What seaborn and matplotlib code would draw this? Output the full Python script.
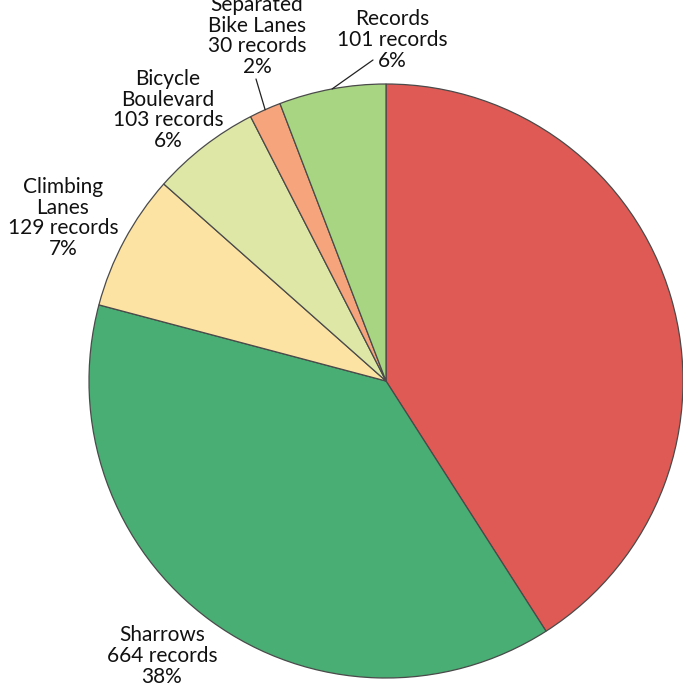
import numpy as np
import pandas as pd
import matplotlib
matplotlib.use("Agg")
import matplotlib.pyplot as plt
import seaborn as sns

# Facility types and how many records each has
categories = ["Bike Lanes", "Sharrows", "Climbing Lanes", "Bicycle Boulevard",
              "Separated Bike Lanes", "Records"]
label_names = [None, "Sharrows", "Climbing\nLanes", "Bicycle\nBoulevard",
               "Separated\nBike Lanes", "Records"]
records = [712, 664, 129, 103, 30, 101]
slice_colors = ["#DF5A55", "#48AE74", "#FCE3A3", "#DFE7A7", "#F5A47C", "#A8D582"]

df = pd.DataFrame({"category": categories, "records": records})
df["pct"] = df["records"] / df["records"].sum() * 100

# Label block centres (canvas pixels, y measured from the top) and leader lines
label_layout = {
    "Sharrows": dict(xy=(162, 656), leader=False),
    "Climbing Lanes": dict(xy=(63, 218), leader=False),
    "Bicycle Boulevard": dict(xy=(168, 110), leader=False),
    "Separated Bike Lanes": dict(xy=(257, 36), leader=True, end=(256, 79)),
    "Records": dict(xy=(392, 40), leader=True, end=(373, 60)),
}

sns.set_theme(style="white")
plt.rcParams["font.family"] = ["Lato", "DejaVu Sans"]

W, H = 683, 688
fig = plt.figure(figsize=(W / 100, H / 100), dpi=100)
ax = fig.add_axes([0, 0, 1, 1])

cx, cy, r = 386, H - 381, 297
wedges, _ = ax.pie(
    df["records"], colors=slice_colors, startangle=90, counterclock=False,
    center=(cx, cy), radius=r,
    wedgeprops=dict(edgecolor="#4a4a4a", linewidth=0.9),
)
ax.set_xlim(0, W)
ax.set_ylim(0, H)
ax.set_aspect("equal")
ax.axis("off")

for wedge, name, (_, row) in zip(wedges, label_names, df.iterrows()):
    if name is None:
        continue
    key = row["category"]
    lay = label_layout[key]
    text = f"{name}\n{row['records']} records\n{row['pct']:.0f}%"
    lx, ly = lay["xy"]
    ax.text(lx, H - ly, text, ha="center", va="center", multialignment="center",
            fontsize=15, linespacing=1.06, color="#111111")
    if lay["leader"]:
        mid = np.deg2rad((wedge.theta1 + wedge.theta2) / 2)
        sx, sy = cx + r * np.cos(mid), cy + r * np.sin(mid)
        ex, ey = lay["end"]
        ax.plot([sx, ex], [sy, H - ey], color="#222222", linewidth=0.9)

fig.savefig("out.png", dpi=100)
